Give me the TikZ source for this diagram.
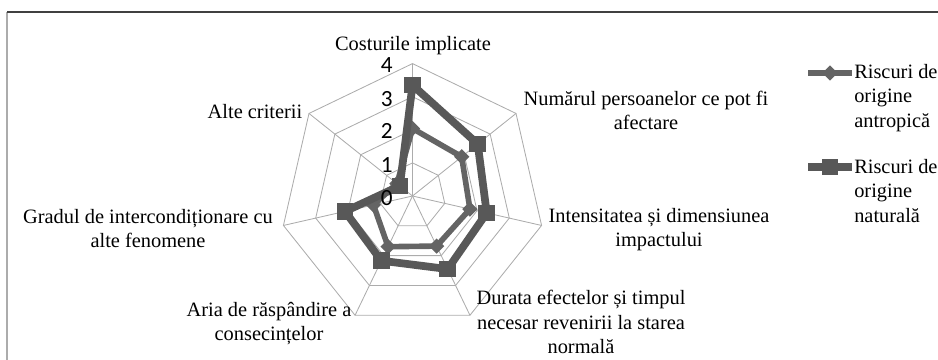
\documentclass[tikz,border=0pt]{standalone}
\usepackage{fontspec}
\setmainfont{Liberation Serif}
\newfontfamily\numfont{Carlito}
\usetikzlibrary{positioning,shapes.geometric}

\definecolor{gridgray}{RGB}{172,172,172}
\definecolor{antrop}{RGB}{100,100,100}
\definecolor{natur}{RGB}{88,88,88}

\begin{document}
\begin{tikzpicture}[x=0.025cm, y=-0.025cm,
    lbl/.style={align=center, inner sep=0pt, font=\fontsize{14.5}{17.5}\selectfont},
    tick/.style={inner sep=0pt, font=\numfont\fontsize{16.5}{18}\selectfont},
    gridline/.style={draw=gridgray, line width=0.6pt},
    antline/.style={draw=antrop, line width=4pt, line join=round},
    natline/.style={draw=natur, line width=5.5pt},
    antmark/.style={diamond, fill=antrop, inner sep=0pt, minimum size=11pt},
    natmark/.style={rectangle, fill=natur, inner sep=0pt, minimum size=11.8pt}]

    \useasboundingbox (0,0) rectangle (938,360);
    \draw[gray!65, line width=1.2pt] (7,12) -- (7,360);
    \draw[black!75, line width=1pt] (7,12) -- (938,12);

    \begin{scope}[shift={(412.5,196)}]
        \coordinate (c) at (0,0);
        \foreach \k in {0,...,6}
            \coordinate (v\k) at ({-90+\k*360/7}:132.4);

        % grid
        \foreach \r in {1,...,4}
            \draw[gridline] ({-90}:{\r*33.1})
                \foreach \k in {1,...,6} { -- ({-90+\k*360/7}:{\r*33.1}) } -- cycle;
        \foreach \k in {0,...,6}
            \draw[gridline] (c) -- (v\k);

        % data
        \foreach \v [count=\k from 0] in {2.04,1.9,1.78,1.68,1.7,1.21,0.6}
            \coordinate (pa\k) at ({-90+\k*360/7}:{\v*33.1});
        \foreach \v [count=\k from 0] in {3.35,2.52,2.3,2.45,2.17,2.09,0.49}
            \coordinate (pn\k) at ({-90+\k*360/7}:{\v*33.1});
    \end{scope}

    \draw[antline] (pa0) -- (pa1) -- (pa2) -- (pa3) -- (pa4) -- (pa5) -- (pa6) -- cycle;
    \foreach \k in {0,...,6}
        \node[antmark] (ma\k) at (pa\k) {};
    \draw[natline] (pn0) -- (pn1) -- (pn2) -- (pn3) -- (pn4) -- (pn5) -- (pn6) -- cycle;
    \foreach \k in {0,...,6}
        \node[natmark] (mn\k) at (pn\k) {};

    % axis values
    \node[tick] (t4) at (386.7,65) {4};
    \node[tick] (t3) at (386.7,99) {3};
    \node[tick] (t2) at (386.7,131) {2};
    \node[tick] (t1) at (386.7,165) {1};
    \node[tick] (t0) at (386.7,198) {0};

    % categories
    \node[lbl] (cost) at (413,46) {Costurile implicate};
    \node[lbl] (nr) at (646,110.5) {Numărul persoanelor ce pot fi\\afectare};
    \node[lbl] (intens) at (659,229.5) {Intensitatea și dimensiunea\\impactului};
    \node[lbl] (durata) at (581,322) {Durata efectelor și timpul\\necesar revenirii la starea\\normală};
    \node[lbl] (aria) at (269,323.5) {Aria de răspândire a\\consecințelor};
    \node[lbl] (grad) at (148,228.5) {Gradul de intercondiționare cu\\alte fenomene};
    \node[lbl] (alte) at (255,112) {Alte criterii};

    % legend
    \coordinate (la1) at (808,73);
    \coordinate (la2) at (852,73);
    \draw[antline] (la1) -- (la2);
    \node[antmark] (lma) at (830,73) {};
    \node[lbl, align=left, anchor=west] (leg1) at (854,98) {Riscuri de\\origine\\antropică};

    \coordinate (ln1) at (808,167);
    \coordinate (ln2) at (852,167);
    \draw[natline] (ln1) -- (ln2);
    \node[natmark] (lmn) at (830,167) {};
    \node[lbl, align=left, anchor=west] (leg2) at (854,191) {Riscuri de\\origine\\naturală};

\end{tikzpicture}
\end{document}
